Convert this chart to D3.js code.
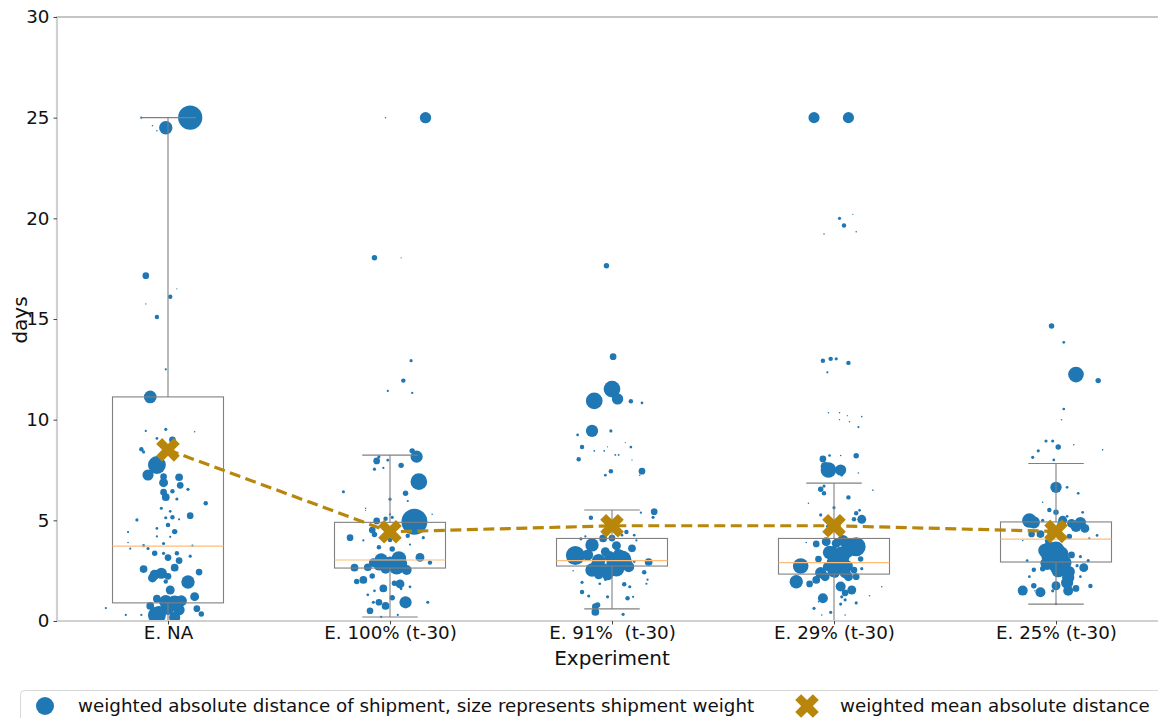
<!DOCTYPE html>
<html><head><meta charset="utf-8">
<script src="https://cdn.jsdelivr.net/npm/d3@7"></script>
<style>
html,body{margin:0;padding:0;background:#fff;overflow:hidden}
svg{display:block;font-family:"DejaVu Sans",sans-serif}
</style></head><body>
<svg id="chart" width="1158" height="718"></svg>
<script>
// ---------------- data ----------------
const categories = ["E. NA", "E. 100% (t-30)", "E. 91%  (t-30)", "E. 29% (t-30)", "E. 25% (t-30)"];
const yTicks = [0, 5, 10, 15, 20, 25, 30];
const whiskerLow  = [0,     0.2,  0.6,  0,    0.84];
const q1          = [0.9,   2.63, 2.73, 2.33, 2.93];
const median      = [3.72,  3.03, 3.0,  2.9,  4.07];
const q3          = [11.13, 4.9,  4.1,  4.1,  4.92];
const whiskerHigh = [25,    8.24, 5.51, 6.85, 7.82];
const weightedMean = [8.5, 4.43, 4.73, 4.73, 4.45];

// shipments: [jitter (category units), days, weight]
const shipNA = [
[0.10,25,118],[-0.01,24.5,36],[-0.10,17.15,9],[0.01,16.1,4],[-0.05,15.1,4],[-0.08,11.13,32],[-0.01,12.5,1],
[0.02,9.0,9],[-0.05,7.75,64],[-0.09,7.25,25],[-0.12,8.53,4],[-0.11,8.4,2],[-0.02,7.17,9],[0.05,7.14,12],
[0.055,6.74,9],[-0.02,6.87,16],[-0.02,6.4,9],[-0.01,6.15,12],[0.02,6.44,4],[0.09,6.54,2],[0.04,6.06,2],
[0.17,5.85,4],[0.10,5.23,9],[-0.14,5.02,2],[0.02,5.15,4],[-0.01,5.13,2],[0.00,4.77,4],[0.03,4.44,6],
[-0.05,4.6,1.5],[-0.18,4.42,1],[-0.11,3.74,2],[-0.02,3.85,2],[-0.17,3.6,1],[-0.09,3.6,2],[-0.06,3.36,6],
[-0.02,3.36,2],[0.00,3.15,9],[0.04,3.36,4],[0.10,3.22,2],[0.05,3.0,9],[0.03,2.65,12],[-0.11,2.58,12],
[-0.03,2.37,25],[-0.07,2.14,16],[0.00,2.22,9],[0.14,2.43,9],[0.09,1.94,36],[-0.01,1.96,4],[0.01,1.54,16],
[0.12,1.21,16],[-0.05,1.11,12],[-0.01,0.96,36],[0.03,0.88,49],[0.05,0.55,25],[0.13,0.61,9],[0.15,0.35,6],
[-0.05,0.28,64],[-0.08,0.75,12],[0.03,0.18,25],[-0.12,0.3,1],[-0.19,0.3,1],[-0.28,0.64,1],
[-0.07,24.6,0.5],[-0.05,24.35,0.5],[-0.12,25,1],[0.04,16.5,0.3],[-0.10,15.75,0.4],
[-0.10,9.44,1],[-0.01,9.52,2],[0.12,9.4,0.5],[-0.05,9.07,1.5],
[-0.18,3.9,0.5],[-0.05,4.2,1],[0.01,4.18,1],[0.11,3.74,1],[-0.03,5.6,2],[0.01,5.45,1.5],[0.05,5.05,1],
[-0.06,2.3,20],[0.06,1.0,25],[0.0,0.6,30],[-0.04,0.5,20]
];
const ship100 = [
[0.16,25,26],[-0.02,25,0.5],[-0.07,18.04,6],[0.05,18.04,0.3],[0.095,12.93,2],[0.06,11.94,4],[-0.01,11.43,1],
[0.10,11.33,1],[0.12,8.16,30],[0.10,8.45,6],[-0.06,7.95,9],[-0.05,8.16,2],[-0.01,7.99,1.5],[0.05,7.73,6],
[-0.07,7.54,2],[-0.03,7.6,1],[0.13,6.92,56],[-0.21,6.42,2],[0.07,6.34,6],[0.00,6.05,2],[0.08,5.96,1],
[-0.11,5.6,0.5],[0.00,5.3,1],[0.11,4.93,135],[-0.02,5.08,4],[0.01,5.15,2],[-0.06,4.97,9],[-0.08,4.52,9],
[-0.07,4.3,6],[-0.18,4.14,9],[0.08,4.23,4],[0.15,4.14,2],[-0.12,4.0,1],[0.00,4.02,4],[0.01,3.58,6],
[-0.05,3.66,4],[0.09,3.8,1],[0.135,3.16,16],[0.04,3.11,42],[-0.04,3.03,36],[-0.075,2.9,16],[0.03,2.7,49],
[0.075,2.53,20],[-0.16,2.65,12],[-0.10,2.67,12],[0.18,2.9,4],[-0.12,2.04,12],[-0.15,1.96,6],[-0.08,2.24,6],
[-0.03,1.62,12],[0.045,1.84,16],[0.02,1.87,6],[0.07,0.93,30],[0.01,1.16,6],[-0.02,0.75,12],[-0.05,0.93,9],
[-0.075,0.93,2],[-0.09,0.51,9],[0.17,0.93,2],[-0.10,1.3,1.5],[-0.07,1.5,1.5],[0.09,1.7,1.5],[0.05,1.6,1.5],
[0.035,0.3,1],[-0.04,0.2,1],[0.19,5.3,0.5],[-0.11,5.5,0.3],
[0.0,2.9,30],[0.05,2.85,30],[-0.02,2.6,20],[-0.05,2.75,20]
];
const ship91 = [
[-0.025,17.64,6],[0.005,13.13,9],[0.00,11.52,56],[0.025,11.03,26],[-0.08,10.93,56],[0.085,10.91,4],[0.135,10.83,1.5],
[-0.09,9.44,30],[-0.005,9.44,2],[-0.155,9.24,1.5],[-0.135,8.64,4],[0.085,8.64,1.5],[-0.15,8.03,4],[-0.005,7.44,4],
[0.135,7.44,9],[-0.03,7.24,1.5],[0.125,7.24,0.5],
[-0.08,8.45,0.7],[-0.035,8.45,0.7],[0.015,8.25,0.7],[0.03,8.25,0.7],[-0.02,8.65,0.3],[0.06,8.86,0.3],[0.09,8.0,0.3],
[0.19,5.43,9],[0.185,5.15,2],[-0.095,5.13,4],[0.13,5.38,1],[0.065,4.42,4],[0.10,4.26,1.5],[0.045,4.26,1.5],
[-0.14,4.08,2],[-0.12,4.2,1],[0.00,4.12,9],[-0.04,4.1,12],[-0.09,3.78,36],[0.02,3.74,16],[0.09,3.61,12],
[0.11,4.0,1],[-0.165,3.25,72],[-0.11,3.28,25],[-0.03,3.44,16],[-0.01,3.2,25],[0.045,3.03,72],[-0.07,2.78,25],
[0.005,2.87,36],[0.075,2.7,25],[-0.09,2.53,36],[-0.04,2.53,36],[-0.06,2.29,16],[0.165,2.93,12],[0.10,2.95,1.5],
[0.145,2.42,4],[-0.015,2.45,1.5],[-0.135,1.92,2],[-0.03,2.05,1.5],[-0.055,1.85,1.5],[0.055,1.83,4],[0.08,1.7,2],
[-0.105,1.24,2],[-0.135,1.44,4],[0.07,1.13,4],[-0.02,1.2,2],[0.095,1.2,1],[-0.075,0.71,9],[-0.065,0.8,6],
[-0.075,0.45,12],[0.05,0.33,2],[0.155,1.85,1],[0.16,2.05,1],[-0.175,2.5,0.5],
[0.02,2.6,49],[0.06,2.9,36],[-0.06,3.0,36],[0.03,3.3,25],[-0.02,2.3,25]
];
const ship29 = [
[-0.09,25,25],[0.065,25,25],[0.025,20.0,2],[0.045,19.64,4],[-0.045,19.22,0.5],[0.10,19.33,0.5],[0.085,20.2,0.3],
[-0.05,12.93,4],[-0.015,13.02,4],[0.01,13.02,2],[0.065,12.82,4],[-0.03,12.35,1],[-0.025,10.34,0.5],[0.025,10.34,0.5],
[0.06,10.2,0.3],[0.125,10.15,0.5],[0.07,9.9,0.5],[0.11,9.63,1],[0.025,10.0,0.3],[0.10,8.21,6],[-0.05,8.05,9],
[-0.02,8.22,1.5],[0.03,8.22,0.5],[-0.025,7.5,49],[0.03,7.5,25],[-0.04,7.68,16],[0.035,7.25,2],[0.11,7.35,0.5],
[-0.06,6.54,6],[-0.045,6.7,2],[-0.045,6.34,4],[0.065,6.14,4],[-0.115,5.85,0.5],[0.175,6.5,0.5],[0.00,5.63,2],
[-0.06,5.27,2],[0.10,5.35,4],[0.125,5.05,16],[0.09,5.05,4],[0.115,5.5,1.5],[-0.01,4.6,6],[-0.03,4.7,1.5],
[-0.08,3.83,9],[-0.035,3.94,16],[0.01,3.86,16],[0.07,3.94,9],[0.10,3.69,72],[0.00,3.6,6],[-0.125,3.9,0.5],
[-0.07,3.08,9],[0.035,3.28,56],[0.01,2.87,72],[-0.15,2.73,49],[-0.03,2.7,16],[0.06,2.73,25],[0.12,3.08,6],
[0.09,2.53,9],[0.125,2.6,2],[-0.17,1.95,36],[-0.11,1.84,9],[-0.08,2.04,12],[-0.04,2.2,16],[0.005,2.37,16],
[0.065,2.2,16],[0.10,2.2,9],[0.03,1.71,20],[0.08,1.54,16],[0.05,1.4,9],[0.035,1.2,2],[-0.05,1.13,20],
[-0.07,0.95,0.5],[0.05,1.05,2],[0.215,1.7,0.5],[0.16,1.25,0.5],[0.03,0.84,2],[-0.015,0.43,2],[-0.09,0.63,2],
[0.05,0.3,0.5],[-0.055,0.3,0.5],[0.10,0.9,2],
[0.03,3.0,56],[0.06,3.5,42],[-0.02,3.4,36],[0.0,2.5,36],[0.05,2.4,25],[-0.06,2.4,25],[0.04,4.0,25]
];
const ship25 = [
[-0.02,14.65,6],[0.035,13.84,1.5],[0.09,12.24,49],[0.19,11.94,6],[0.035,10.53,1.5],[0.025,10.0,0.5],
[-0.045,8.94,2],[-0.015,8.94,2],[0.01,8.64,6],[-0.08,8.45,2],[-0.105,8.13,2],[-0.01,8.0,1.5],[0.08,8.75,0.5],
[0.21,8.5,0.5],[0.00,6.64,26],[0.05,6.64,1.5],[0.10,6.34,1.5],[-0.06,5.9,0.5],[-0.03,5.51,4],[0.00,5.4,6],
[0.12,5.4,1.5],[0.05,5.2,1.5],[-0.12,4.99,42],[-0.06,5.0,2],[0.025,4.77,16],[0.07,4.85,16],[0.11,4.89,25],
[0.13,4.6,16],[-0.11,4.32,9],[-0.07,4.32,12],[-0.02,4.42,16],[-0.035,4.0,9],[0.06,4.2,6],[0.185,4.25,1.5],
[0.15,4.1,1],[-0.15,4.0,0.5],[-0.03,3.61,36],[0.00,3.53,56],[-0.035,3.28,42],[0.03,3.03,36],[0.07,3.28,9],
[0.11,3.2,2],[-0.04,2.87,36],[0.00,2.7,36],[0.125,2.65,16],[0.095,2.75,2],[0.145,3.0,2],[-0.10,2.55,4],
[-0.13,3.0,1.5],[0.06,2.45,25],[0.055,2.17,30],[-0.06,2.6,6],[0.00,1.75,16],[-0.15,1.51,20],[-0.07,1.43,20],
[-0.10,1.75,6],[0.09,1.62,9],[0.155,1.74,4],[-0.015,1.5,2],[0.06,1.45,2],[-0.095,1.5,0.5],[0.00,0.84,1],
[-0.12,2.2,1.5],[0.11,2.2,1.5],
[0.02,3.3,56],[-0.02,3.0,42],[0.01,2.5,36],[0.04,2.9,36],[-0.05,3.5,36],[0.05,1.9,30],[0.055,1.5,20],
[-0.1,4.9,30],[0.09,4.7,25],[0.03,5.0,16]
];
const shipments = [shipNA, ship100, ship91, ship29, ship25];

const legendLabels = ["weighted absolute distance of shipment, size represents shipment weight", "weighted mean absolute distance"];

// ---------------- drawing ----------------
const svg = d3.select("#chart");
const x = d3.scaleLinear().domain([-0.5, 4.5]).range([57, 1167]);
const y = d3.scaleLinear().domain([0, 30]).range([621, 17]);
const r = d3.scaleSqrt().domain([0, 169]).range([0, 14.5]);
const blue = "#1f77b4", gold = "#b8860b", boxGrey = "#808080";
const boxHalf = 0.25, capHalf = 0.125;

const plot = svg.append("g");
plot.append("defs").append("clipPath").attr("id","clip")
  .append("rect").attr("x",57).attr("y",17).attr("width",1110).attr("height",604);

// points
const pts = plot.append("g").attr("clip-path","url(#clip)");
shipments.forEach((arr, i) => {
  pts.selectAll(null).data(arr).enter().append("circle")
    .attr("cx", d => x(i + d[0]))
    .attr("cy", d => y(d[1]))
    .attr("r", d => r(d[2]))
    .attr("fill", blue);
});

// boxes
const boxes = plot.append("g").attr("fill","none");
categories.forEach((c, i) => {
  const g = boxes.append("g");
  g.append("rect").attr("x", x(i - boxHalf)).attr("y", y(q3[i]))
    .attr("width", x(i + boxHalf) - x(i - boxHalf)).attr("height", y(q1[i]) - y(q3[i]))
    .attr("stroke", boxGrey).attr("stroke-width", 1.1);
  g.append("line").attr("x1", x(i)).attr("x2", x(i)).attr("y1", y(q3[i])).attr("y2", y(whiskerHigh[i]))
    .attr("stroke", boxGrey).attr("stroke-width", 1.1);
  g.append("line").attr("x1", x(i)).attr("x2", x(i)).attr("y1", y(q1[i])).attr("y2", y(whiskerLow[i]))
    .attr("stroke", boxGrey).attr("stroke-width", 1.1);
  [whiskerHigh[i], whiskerLow[i]].forEach(v => {
    g.append("line").attr("x1", x(i - capHalf)).attr("x2", x(i + capHalf)).attr("y1", y(v)).attr("y2", y(v))
      .attr("stroke", boxGrey).attr("stroke-width", 1.1);
  });
  g.append("line").attr("x1", x(i - boxHalf)).attr("x2", x(i + boxHalf)).attr("y1", y(median[i])).attr("y2", y(median[i]))
    .attr("stroke", "#ffbb78").attr("stroke-width", 1.2);
});

// spines
svg.append("line").attr("x1",57).attr("x2",1158).attr("y1",17).attr("y2",17).attr("stroke","#8a8a8a").attr("stroke-width",1);
svg.append("line").attr("x1",57).attr("x2",57).attr("y1",16).attr("y2",622).attr("stroke","#d0d0d0").attr("stroke-width",2.2);
svg.append("line").attr("x1",56).attr("x2",1158).attr("y1",621).attr("y2",621).attr("stroke","#d0d0d0").attr("stroke-width",2.2);

// mean line
plot.append("path").datum(weightedMean)
  .attr("d", d3.line().x((d,i) => x(i)).y(d => y(d)))
  .attr("fill","none").attr("stroke", gold).attr("stroke-width", 3.2).attr("stroke-dasharray","11,5.5");

// matplotlib-style filled "X" marker
const u = 5.9;
const xPts = [[-1,-2],[0,-1],[1,-2],[2,-1],[1,0],[2,1],[1,2],[0,1],[-1,2],[-2,1],[-1,0],[-2,-1]];
const xPath = "M" + xPts.map(p => (p[0]*u) + "," + (p[1]*u)).join("L") + "Z";
plot.selectAll(null).data(weightedMean).enter().append("path")
  .attr("d", xPath).attr("fill", gold)
  .attr("transform", (d,i) => `translate(${x(i)},${y(d)})`);

// y axis
const yAxis = svg.append("g").attr("transform","translate(57,0)")
  .call(d3.axisLeft(y).tickValues(yTicks).tickSize(3.5).tickPadding(4));
yAxis.select(".domain").remove();
yAxis.selectAll(".tick line").attr("stroke","#444");
yAxis.selectAll(".tick text").attr("font-size","18.3px").attr("fill","#111").attr("font-family","DejaVu Sans");

// x axis
const xAxis = svg.append("g").attr("transform","translate(0,621)")
  .call(d3.axisBottom(x).tickValues(d3.range(categories.length)).tickFormat(i => categories[i]).tickSize(3.5).tickPadding(2));
xAxis.select(".domain").remove();
xAxis.selectAll(".tick line").attr("stroke","#444");
xAxis.selectAll(".tick text").attr("font-size","18.3px").attr("fill","#111").attr("font-family","DejaVu Sans")
  .style("white-space","pre");

svg.append("text").attr("x", 612).attr("y", 665).attr("text-anchor","middle")
  .attr("font-size","20px").attr("fill","#111").text("Experiment");
svg.append("text").attr("transform","translate(27,320) rotate(-90)").attr("text-anchor","middle")
  .attr("font-size","20px").attr("fill","#111").text("days");

// legend
const lg = svg.append("g");
lg.append("rect").attr("x",20.5).attr("y",690.5).attr("width",1160).attr("height",50).attr("rx",4)
  .attr("fill","#fff").attr("stroke","#d8d8d8");
lg.append("circle").attr("cx",45).attr("cy",706).attr("r",9).attr("fill",blue);
lg.append("text").attr("x",78).attr("y",712).attr("font-size","18.3px").attr("fill","#111").text(legendLabels[0]);
lg.append("path").attr("d",xPath).attr("fill",gold).attr("transform","translate(807,706)");
lg.append("text").attr("x",840).attr("y",712).attr("font-size","18.3px").attr("fill","#111").text(legendLabels[1]);
</script>
</body></html>
